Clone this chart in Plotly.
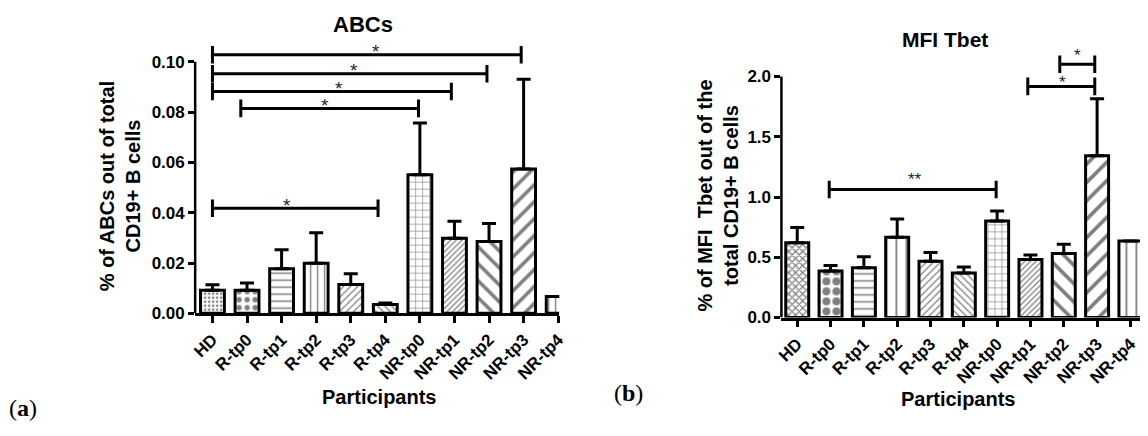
import plotly.graph_objects as go

W, H = 1148, 436

# ---------------- data ----------------
categories = ["HD", "R-tp0", "R-tp1", "R-tp2", "R-tp3", "R-tp4",
              "NR-tp0", "NR-tp1", "NR-tp2", "NR-tp3", "NR-tp4"]

abc_mean = [0.0092, 0.0092, 0.0177, 0.0199, 0.0115, 0.0035,
            0.0551, 0.0299, 0.0286, 0.0574, 0.0067]
abc_err = [0.0022, 0.0029, 0.0076, 0.0121, 0.0042, 0.0006,
           0.0206, 0.0067, 0.0071, 0.0357, 0.0]

tbet_mean = [0.621, 0.386, 0.413, 0.667, 0.467, 0.370,
             0.802, 0.481, 0.532, 1.343, 0.635]
tbet_err = [0.127, 0.046, 0.092, 0.151, 0.073, 0.049,
            0.081, 0.038, 0.076, 0.472, 0.0]

abc_ticks = [0.00, 0.02, 0.04, 0.06, 0.08, 0.10]
abc_ticktext = ["0.00", "0.02", "0.04", "0.06", "0.08", "0.10"]
tbet_ticks = [0.0, 0.5, 1.0, 1.5, 2.0]
tbet_ticktext = ["0.0", "0.5", "1.0", "1.5", "2.0"]

# significance brackets: start index, end index, level, label, label x, label y
abc_br_start = [0, 0, 0, 0.82, 0]
abc_br_end = [8.93, 7.94, 6.91, 5.96, 4.79]
abc_br_level = [0.1028, 0.0953, 0.0882, 0.0815, 0.0418]
abc_br_label = ["*", "*", "*", "*", "*"]
abc_br_lx = [4.72, 4.09, 3.65, 3.25, 2.17]
abc_br_ly = [0.1058, 0.0983, 0.0910, 0.0843, 0.0445]

tbet_br_start = [0.96, 6.92, 7.88]
tbet_br_end = [5.97, 8.93, 8.93]
tbet_br_level = [1.062, 1.918, 2.101]
tbet_br_label = ["**", "*", "*"]
tbet_br_lx = [3.53, 7.95, 8.42]
tbet_br_ly = [1.175, 1.986, 2.207]

# ---------------- styles ----------------
pat_a_shape = [".", ".", "-", "|", "/", "\\", "+", "/", "\\", "/", "|"]
pat_a_size = [4, 8, 7, 7, 5, 5, 7, 4, 12, 12, 7]
pat_a_sol = [0.35, 0.35, 0.22, 0.2, 0.25, 0.25, 0.17, 0.3, 0.3, 0.3, 0.2]

pat_b_shape = ["x", ".", "-", "|", "/", "\\", "+", "/", "\\", "/", "|"]
pat_b_size = [5, 10, 7, 10, 5, 5, 7, 4, 13, 13, 10]
pat_b_sol = [0.45, 0.5, 0.22, 0.18, 0.25, 0.25, 0.17, 0.3, 0.28, 0.28, 0.18]

FONT = "Liberation Sans, Arial, sans-serif"


def px_x(p):
    return p / W


def px_y(p):
    return 1 - p / H


# axes geometry (pixels)
a_left, a_right, a_y0, a_ytop = 191.5, 560, 320.7, 63.3
b_left, b_right, b_y0, b_ytop = 785, 1148, 325, 78.3
a_axis_max, a_range_max = 0.10, 0.112
b_axis_max, b_range_max = 2.0, 2.25
a_ppu = (a_y0 - a_ytop) / a_axis_max
b_ppu = (b_y0 - b_ytop) / b_axis_max

fig = go.Figure()

xs = list(range(len(categories)))


def add_panel(mean, err, shapes, sizes, sols, xa, ya):
    fig.add_trace(go.Bar(
        x=xs, y=mean, xaxis=xa, yaxis=ya, width=0.69,
        marker=dict(color="white", line=dict(color="black", width=3),
                    pattern=dict(shape=shapes, size=sizes, solidity=sols,
                                 fgcolor="black", bgcolor="white")),
        error_y=dict(type="data", symmetric=False, array=err,
                     arrayminus=[0] * len(err), color="black",
                     thickness=3, width=7),
        showlegend=False, hoverinfo="skip"))


add_panel(abc_mean, abc_err, pat_a_shape, pat_a_size, pat_a_sol, "x", "y")
add_panel(tbet_mean, tbet_err, pat_b_shape, pat_b_size, pat_b_sol, "x2", "y2")


def add_brackets(starts, ends, levels, labels, lxs, lys, xa, ya, unit_per_px, star_size):
    bx, by = [], []
    dt = 9 * unit_per_px
    for s, e, lv in zip(starts, ends, levels):
        bx += [s, s, None, s, e, None, e, e, None]
        by += [lv - dt, lv + dt, None, lv, lv, None, lv - dt, lv + dt, None]
    fig.add_trace(go.Scatter(x=bx, y=by, xaxis=xa, yaxis=ya, mode="lines",
                             line=dict(color="black", width=3),
                             cliponaxis=False, showlegend=False,
                             hoverinfo="skip"))
    for lab, lx, ly in zip(labels, lxs, lys):
        fig.add_annotation(x=lx, y=ly, xref=xa, yref=ya, text=lab,
                           showarrow=False, yanchor="middle", yshift=-4,
                           font=dict(family=FONT, size=star_size, color="#1e1e2e"))


add_brackets(abc_br_start, abc_br_end, abc_br_level, abc_br_label,
             abc_br_lx, abc_br_ly, "x", "y", 1 / a_ppu, 19)
add_brackets(tbet_br_start, tbet_br_end, tbet_br_level, tbet_br_label,
             tbet_br_lx, tbet_br_ly, "x2", "y2", 1 / b_ppu, 17)

tickfont = dict(family=FONT, size=17, color="black", weight="bold")
xtickfont = dict(family=FONT, size=17, color="black", weight="bold")

common_x = dict(tickmode="array", tickvals=xs, ticktext=categories,
                tickangle=-45, ticks="outside", ticklen=7, tickwidth=2.5,
                tickcolor="black", showline=True, linecolor="black",
                linewidth=2.5, showgrid=False, zeroline=False,
                tickfont=xtickfont, fixedrange=True)
common_y = dict(tickmode="array", ticks="outside", ticklen=6, tickwidth=2.5,
                tickcolor="black", showline=False, showgrid=False,
                zeroline=False, tickfont=tickfont, fixedrange=True)

a_unit = 35.0
b_unit = 33.73

fig.update_layout(
    width=W, height=H, margin=dict(l=0, r=0, t=0, b=0),
    paper_bgcolor="white", plot_bgcolor="white",
    xaxis=dict(domain=[px_x(a_left), px_x(a_right)],
               range=[-(209 - a_left) / a_unit, (a_right - 209) / a_unit],
               anchor="y", **common_x),
    yaxis=dict(domain=[px_y(a_y0), px_y(a_y0 - a_range_max * a_ppu)],
               range=[0, a_range_max],
               tickvals=abc_ticks, ticktext=abc_ticktext, anchor="x", **common_y),
    xaxis2=dict(domain=[px_x(b_left), px_x(b_right)],
                range=[-(801 - b_left) / b_unit, (b_right - 801) / b_unit],
                anchor="y2", **common_x),
    yaxis2=dict(domain=[px_y(b_y0), px_y(b_y0 - b_range_max * b_ppu)],
                range=[0, b_range_max],
                tickvals=tbet_ticks, ticktext=tbet_ticktext, anchor="x2", **common_y),
)

# y axis lines only up to the top tick
fig.add_shape(type="line", xref="x domain", yref="y", x0=0, x1=0,
              y0=0, y1=a_axis_max, line=dict(color="black", width=2.5))
fig.add_shape(type="line", xref="x2 domain", yref="y2", x0=0, x1=0,
              y0=0, y1=b_axis_max, line=dict(color="black", width=2.5))

bold = dict(family=FONT, color="black", weight="bold")

annots = [
    dict(text="ABCs", x=px_x(361), y=px_y(25), size=22),
    dict(text="MFI Tbet", x=px_x(951), y=px_y(40), size=21),
    dict(text="Participants", x=px_x(378), y=px_y(406), size=20),
    dict(text="Participants", x=px_x(964), y=px_y(408), size=20),
]
for a in annots:
    fig.add_annotation(text=a["text"], x=a["x"], y=a["y"], xref="paper", yref="paper",
                       showarrow=False, xanchor="center", yanchor="middle",
                       font=dict(size=a["size"], **bold))

fig.add_annotation(text="% of ABCs out of total<br>CD19+ B cells",
                   x=px_x(115), y=px_y(191), xref="paper", yref="paper",
                   showarrow=False, textangle=-90, xanchor="center", yanchor="middle",
                   font=dict(size=20, **bold))
fig.add_annotation(text="% of MFI  Tbet out of the<br>total CD19+ B cells",
                   x=px_x(721), y=px_y(200), xref="paper", yref="paper",
                   showarrow=False, textangle=-90, xanchor="center", yanchor="middle",
                   font=dict(size=20, **bold))

serif = "Liberation Serif, Times New Roman, serif"
fig.add_annotation(text="(<b>a</b>)", x=px_x(1), y=px_y(418), xref="paper", yref="paper",
                   showarrow=False, xanchor="left", yanchor="middle",
                   font=dict(family=serif, size=24, color="black"))
fig.add_annotation(text="(<b>b</b>)", x=px_x(613), y=px_y(402), xref="paper", yref="paper",
                   showarrow=False, xanchor="left", yanchor="middle",
                   font=dict(family=serif, size=24, color="black"))

fig.write_html("out.html")
